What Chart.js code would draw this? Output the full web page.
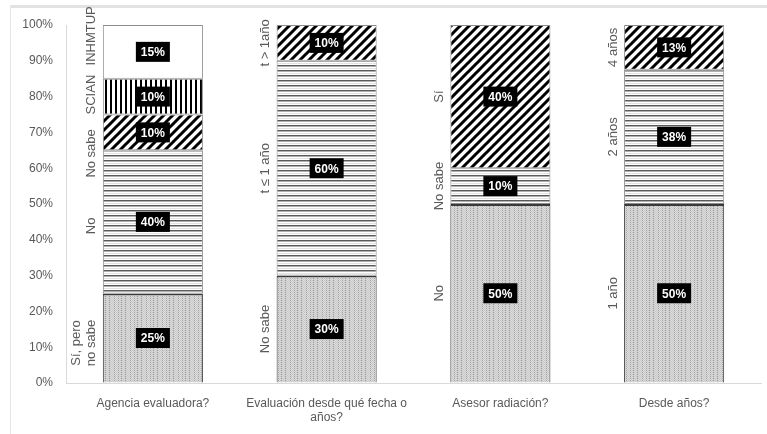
<!DOCTYPE html>
<html lang="es">
<head>
    <meta charset="UTF-8">
    <title>Evaluación</title>
    <script src="https://cdn.jsdelivr.net/npm/chart.js"></script>
    <style>
        body { margin: 0; background: #fff; }
        .chart-box { position: relative; width: 767px; height: 434px; }
    </style>
</head>
<body>
    <div class="chart-box">
        <canvas id="grafico"></canvas>
    </div>

    <script>
        // categorias (eje x)
        const categorias = [
            'Agencia evaluadora?',
            ['Evaluación desde qué fecha o', 'años?'],
            'Asesor radiación?',
            'Desde años?'
        ];

        // valores por capa, de abajo hacia arriba (%)
        const capa1 = [25, 30, 50, 50];
        const capa2 = [40, 60, 10, 37.5];
        const capa3 = [10, 10, 40, 12.5];
        const capa4 = [10, null, null, null];
        const capa5 = [15, null, null, null];

        // nombres de cada segmento
        const nombres1 = [['Sí, pero', 'no sabe'], 'No sabe', 'No', '1 año'];
        const nombres2 = ['No', 't ≤ 1 año', 'No sabe', '2 años'];
        const nombres3 = ['No sabe', 't > 1año', 'Sí', '4 años'];
        const nombres4 = ['SCIAN', null, null, null];
        const nombres5 = ['INHMTUP', null, null, null];

        const ticksY = [0, 10, 20, 30, 40, 50, 60, 70, 80, 90, 100];

        function tile(w, h, draw) {
            const c = document.createElement('canvas');
            c.width = w; c.height = h;
            const g = c.getContext('2d');
            draw(g, w, h);
            return g.createPattern(c, 'repeat');
        }

        // punteado gris
        const patPuntos = tile(16, 24, function(g, w, h) {
            g.fillStyle = '#dcdcdc';
            g.fillRect(0, 0, w, h);
            for (let y = 0; y < h; y++) {
                for (let x = 0; x < w; x++) {
                    if ((x + y) % 2 === 0) {
                        g.fillStyle = '#c8c8c8';
                        g.fillRect(x, y, 1, 1);
                    }
                }
            }
            [2, 6, 9, 13].forEach(function(x) {
                for (let y = 0; y < h; y += 2) {
                    g.fillStyle = '#a0a0a0';
                    g.fillRect(x, y, 1, 1);
                }
            });
        });

        // rayas horizontales
        const patHoriz = tile(8, 5, function(g, w) {
            g.fillStyle = '#ffffff'; g.fillRect(0, 0, w, 5);
            g.fillStyle = '#5a5a5a'; g.fillRect(0, 0, w, 1);
            g.fillStyle = '#b0b0b0'; g.fillRect(0, 1, w, 1);
            g.fillStyle = '#e2e2e2'; g.fillRect(0, 3, w, 1);
        });

        // rayas diagonales
        const patDiag = tile(9, 9, function(g, w, h) {
            g.fillStyle = '#ffffff'; g.fillRect(0, 0, w, h);
            g.strokeStyle = '#000000';
            g.lineWidth = 3;
            g.beginPath();
            g.moveTo(-2, h + 2); g.lineTo(w + 2, -2);
            g.moveTo(-w - 2, h + 2); g.lineTo(2, -2);
            g.moveTo(-2, 2 * h + 2); g.lineTo(w + 2, h - 2);
            g.stroke();
        });

        // rayas verticales
        const patVert = tile(5, 6, function(g) {
            g.fillStyle = '#ffffff'; g.fillRect(0, 0, 5, 6);
            g.fillStyle = '#000000'; g.fillRect(0, 0, 2, 6);
        });

        // recuadros negros con porcentaje
        const etiquetasPct = {
            id: 'etiquetasPct',
            afterDatasetsDraw(chart) {
                const ctx = chart.ctx;
                ctx.save();
                ctx.font = 'bold 12px "Liberation Sans", Arial, sans-serif';
                ctx.textAlign = 'center';
                ctx.textBaseline = 'middle';
                chart.data.datasets.forEach(function(ds, i) {
                    chart.getDatasetMeta(i).data.forEach(function(bar, j) {
                        const v = ds.data[j];
                        if (v == null) return;
                        const txt = Math.round(v) + '%';
                        const cy = (bar.y + bar.base) / 2;
                        const w = ctx.measureText(txt).width + 10;
                        ctx.fillStyle = '#000';
                        ctx.fillRect(bar.x - w / 2, cy - 10, w, 20);
                        ctx.fillStyle = '#fff';
                        ctx.fillText(txt, bar.x, cy + 1);
                    });
                });
                ctx.restore();
            }
        };

        // nombres girados a la izquierda de cada barra
        const nombresSeg = {
            id: 'nombresSeg',
            afterDatasetsDraw(chart, args, opts) {
                const ctx = chart.ctx;
                ctx.save();
                ctx.font = '13px "Liberation Sans", Arial, sans-serif';
                ctx.fillStyle = '#595959';
                ctx.textAlign = 'center';
                ctx.textBaseline = 'middle';
                chart.data.datasets.forEach(function(ds, i) {
                    chart.getDatasetMeta(i).data.forEach(function(bar, j) {
                        const n = ds.nombres[j];
                        if (!n || ds.data[j] == null) return;
                        const lineas = Array.isArray(n) ? n : [n];
                        const izq = bar.x - bar.width / 2;
                        const ajuste = (opts.ajuste[j] && opts.ajuste[j][i]) || 0;
                        const cy = (bar.y + bar.base) / 2 + ajuste;
                        lineas.forEach(function(l, k) {
                            const cx = izq - 11 - (lineas.length - 1 - k) * 15;
                            ctx.save();
                            ctx.translate(cx, cy);
                            ctx.rotate(-Math.PI / 2);
                            ctx.fillText(l, 0, 0);
                            ctx.restore();
                        });
                    });
                });
                ctx.restore();
            }
        };

        const marco = {
            id: 'marco',
            beforeDraw(chart) {
                const ctx = chart.ctx;
                ctx.save();
                ctx.fillStyle = '#e2e2e2';
                ctx.fillRect(10, 5, chart.width - 10, 3);
                ctx.fillStyle = '#e6e6e6';
                ctx.fillRect(10, 5, 1, chart.height - 5);
                ctx.restore();
            }
        };

        const borde = '#8c8c8c';

        new Chart(document.getElementById('grafico'), {
            type: 'bar',
            data: {
                labels: categorias,
                datasets: [
                    { data: capa1, nombres: nombres1, backgroundColor: patPuntos, borderColor: '#3a3a3a', borderWidth: { top: 2, left: 1, right: 1, bottom: 0 } },
                    { data: capa2, nombres: nombres2, backgroundColor: patHoriz, borderColor: borde, borderWidth: 1 },
                    { data: capa3, nombres: nombres3, backgroundColor: patDiag, borderColor: borde, borderWidth: 1 },
                    { data: capa4, nombres: nombres4, backgroundColor: patVert, borderColor: borde, borderWidth: 1 },
                    { data: capa5, nombres: nombres5, backgroundColor: '#ffffff', borderColor: borde, borderWidth: 1 }
                ]
            },
            options: {
                responsive: true,
                maintainAspectRatio: false,
                animation: false,
                layout: { padding: { top: 25, right: 6, left: 0, bottom: 0 } },
                datasets: { bar: { categoryPercentage: 1, barPercentage: 0.576, borderSkipped: false } },
                plugins: {
                    legend: { display: false },
                    tooltip: { enabled: false },
                    nombresSeg: { ajuste: { 0: [5, 4, 21, -2, -16] } }
                },
                scales: {
                    x: {
                        stacked: true,
                        grid: { display: true, color: 'transparent', drawTicks: false },
                        border: { display: true, color: '#d9d9d9', width: 1 },
                        ticks: {
                            color: '#595959',
                            font: { family: '"Liberation Sans", Arial, sans-serif', size: 12 },
                            padding: 13,
                            maxRotation: 0
                        },
                        afterFit(s) { s.height = 51; }
                    },
                    y: {
                        stacked: true,
                        min: 0,
                        max: 100,
                        afterBuildTicks(s) { s.ticks = ticksY.map(function(v) { return { value: v }; }); },
                        grid: { display: true, color: 'transparent', drawTicks: false },
                        border: { display: true, color: '#d9d9d9', width: 1 },
                        ticks: {
                            color: '#595959',
                            font: { family: '"Liberation Sans", Arial, sans-serif', size: 12 },
                            padding: 13,
                            callback: function(v) { return v + '%'; }
                        },
                        afterFit(s) { s.width = 66; }
                    }
                }
            },
            plugins: [marco, etiquetasPct, nombresSeg]
        });
    </script>
</body>
</html>
